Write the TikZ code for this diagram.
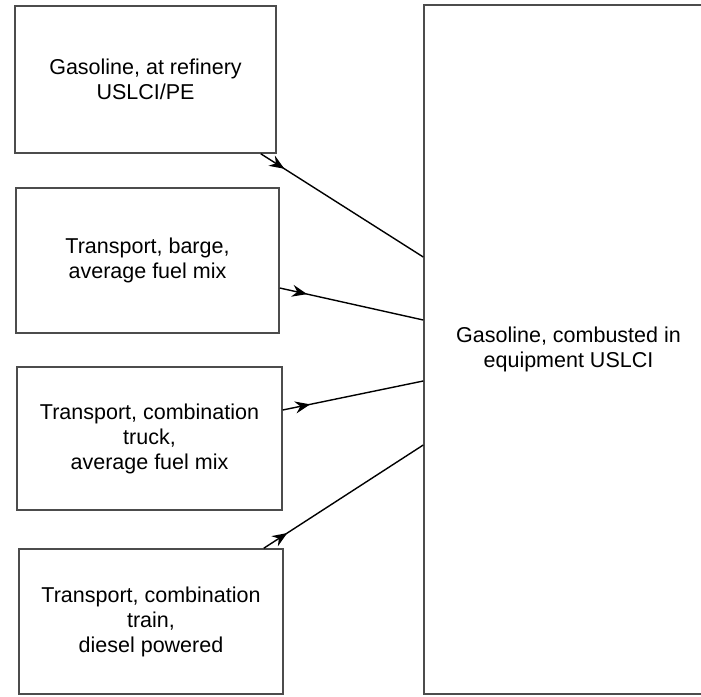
\documentclass[tikz,border=0pt]{standalone}
\usepackage{fontspec}
\setmainfont{Liberation Sans}
\usetikzlibrary{arrows.meta,decorations.markings}

\begin{document}
\begin{tikzpicture}[x=1pt,y=-1pt,
  box/.style={draw=black!70,line width=1.5pt,align=center,inner sep=0pt,
    font=\fontsize{21.5}{25}\selectfont},
  flow/.style={line width=1.4pt,postaction={decorate},
    decoration={markings,mark=at position 28pt with {\arrow{Stealth[length=15pt,width=12pt,inset=5pt]}}}}]
  \clip (0,0) rectangle (701,696);
  \node[box,minimum width=261pt,minimum height=147pt] (refinery) at (145.5,79.5) {Gasoline, at refinery\\USLCI/PE};
  \node[box,minimum width=263pt,minimum height=145pt] (barge) at (147.5,260.5) {Transport, barge,\\average fuel mix};
  \node[box,minimum width=265pt,minimum height=143pt] (truck) at (149.5,438.5) {Transport, combination\\truck,\\average fuel mix};
  \node[box,minimum width=264pt,minimum height=145pt] (train) at (151,621.5) {Transport, combination\\train,\\diesel powered};
  \node[box,minimum width=289pt,minimum height=689pt] (combust) at (568.5,349.5) {Gasoline, combusted in\\equipment USLCI};
  \draw[flow] ([xshift=-16pt]refinery.south east) -- ([yshift=92.5pt]combust.west);
  \draw[flow] ([yshift=-27.5pt]barge.east) -- ([yshift=29.5pt]combust.west);
  \draw[flow] ([yshift=28.5pt]truck.east) -- ([yshift=-31.5pt]combust.west);
  \draw[flow] ([xshift=-20pt]train.north east) -- ([yshift=-95.5pt]combust.west);
\end{tikzpicture}
\end{document}
